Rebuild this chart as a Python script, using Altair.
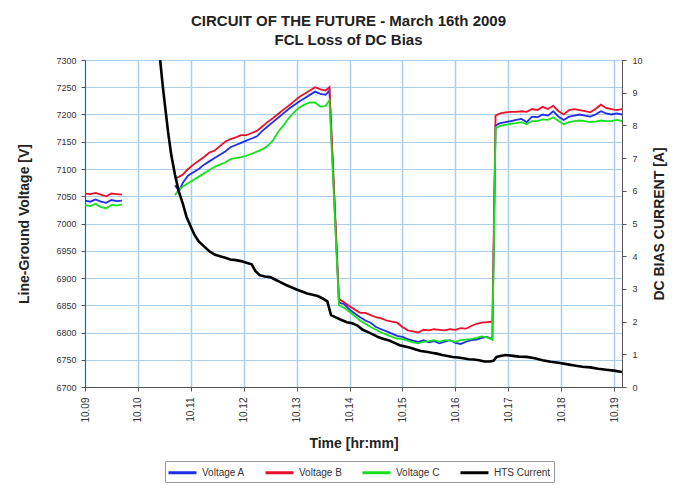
import altair as alt
import pandas as pd

# ---------- data (minutes after 10:09) ----------
seg1_t = [0.0, 0.1, 0.2, 0.3, 0.4, 0.5, 0.6, 0.7]
seg1_A = [7042, 7040, 7044, 7040, 7038, 7043, 7041, 7042]
seg1_B = [7055, 7054, 7056, 7053, 7050, 7055, 7054, 7053]
seg1_C = [7034, 7032, 7036, 7030, 7028, 7034, 7033, 7035]

seg2_t = [1.70, 1.78, 1.85, 1.95, 2.05, 2.15, 2.25, 2.35, 2.45, 2.55, 2.65, 2.75, 2.85, 2.95,
          3.05, 3.15, 3.25, 3.35, 3.45, 3.55, 3.65, 3.75, 3.85, 3.95, 4.05, 4.15, 4.25, 4.35,
          4.45, 4.55, 4.62,
          4.80, 4.90, 5.00, 5.10, 5.20, 5.30, 5.40, 5.50, 5.60, 5.70, 5.80, 5.90, 6.00, 6.10,
          6.20, 6.30, 6.40, 6.50, 6.60, 6.70, 6.80, 6.90, 7.00, 7.10, 7.20, 7.30, 7.40, 7.50,
          7.60, 7.70,
          7.76, 7.85, 7.95, 8.05, 8.15, 8.25, 8.35, 8.45, 8.55, 8.65, 8.75, 8.85, 8.95, 9.05,
          9.15, 9.25, 9.35, 9.45, 9.55, 9.65, 9.75, 9.85, 9.95, 10.05, 10.15]
seg2_A = [7070, 7060, 7075, 7088, 7094, 7100, 7108, 7114, 7120, 7126, 7132, 7140, 7144, 7148,
          7152, 7156, 7160, 7170, 7178, 7186, 7194, 7202, 7210, 7217, 7224, 7230, 7236, 7242,
          7238, 7236, 7244,
          6855, 6852, 6842, 6835, 6828, 6822, 6818, 6810, 6806, 6802, 6798, 6794, 6792, 6788,
          6785, 6783, 6786, 6782, 6784, 6780, 6783, 6786, 6781, 6779, 6783, 6786, 6787, 6790,
          6792, 6788,
          7180, 7184, 7186, 7188, 7190, 7192, 7186, 7196, 7195, 7200, 7198, 7206, 7196, 7190,
          7196, 7198, 7200, 7198, 7196, 7200, 7206, 7202, 7200, 7202, 7200]
seg2_B = [7082, 7086, 7090, 7100, 7108, 7115, 7122, 7130, 7134, 7142, 7150, 7155, 7158, 7162,
          7162, 7166, 7170, 7178, 7186, 7193, 7201, 7209, 7216, 7224, 7232, 7238, 7244, 7250,
          7246, 7244, 7250,
          6862, 6855, 6848, 6842, 6836, 6836, 6832, 6828, 6826, 6822, 6820, 6818, 6810, 6804,
          6802, 6800, 6805, 6804, 6806, 6805, 6804, 6806, 6805, 6808, 6807, 6812, 6816, 6818,
          6819, 6820,
          7198, 7202, 7204, 7205, 7205, 7206, 7205, 7210, 7208, 7214, 7210, 7216, 7206, 7200,
          7208, 7210, 7208, 7206, 7204, 7210, 7218, 7212, 7210, 7208, 7210]
seg2_C = [7052, 7062, 7068, 7074, 7080, 7086, 7092, 7098, 7104, 7108, 7112, 7118, 7120, 7122,
          7124, 7128, 7132, 7136, 7142, 7152, 7168, 7180, 7193, 7204, 7213, 7218, 7222, 7222,
          7214, 7216, 7226,
          6850, 6845, 6838, 6830, 6822, 6816, 6810, 6805, 6800, 6796, 6792, 6789, 6788, 6785,
          6782, 6780, 6783, 6784, 6786, 6783, 6786, 6785, 6783, 6786, 6787, 6788, 6790, 6793,
          6791, 6787,
          7175, 7179, 7181, 7183, 7184, 7186, 7182, 7188, 7188, 7191, 7190, 7195, 7188, 7182,
          7186, 7188, 7189, 7188, 7186, 7187, 7189, 7188, 7188, 7190, 7188]

hts_t = [1.42, 1.47, 1.52, 1.57, 1.63, 1.70, 1.77, 1.85, 1.92, 2.00, 2.07, 2.15, 2.25, 2.35,
         2.45, 2.55, 2.65, 2.75, 2.85, 2.95, 3.05, 3.15, 3.22, 3.30, 3.40, 3.50, 3.60, 3.70,
         3.80, 3.90, 4.00, 4.10, 4.20, 4.30, 4.40, 4.50, 4.58, 4.65, 4.75, 4.85, 4.95, 5.05,
         5.15, 5.25, 5.35, 5.45, 5.55, 5.65, 5.75, 5.85, 5.95, 6.05, 6.15, 6.25, 6.35, 6.45,
         6.55, 6.65, 6.75, 6.85, 6.95, 7.05, 7.15, 7.25, 7.35, 7.45, 7.55, 7.65, 7.72, 7.78,
         7.85, 7.95, 8.05, 8.20, 8.35, 8.50, 8.65, 8.80, 8.95, 9.10, 9.25, 9.40, 9.55, 9.70,
         9.85, 10.00, 10.15]
hts_I = [10.0, 9.2, 8.5, 7.8, 7.1, 6.5, 6.0, 5.6, 5.2, 4.9, 4.65, 4.45, 4.3, 4.15,
         4.05, 4.0, 3.95, 3.9, 3.88, 3.85, 3.8, 3.75, 3.55, 3.42, 3.38, 3.36, 3.28, 3.2,
         3.12, 3.05, 2.98, 2.92, 2.86, 2.82, 2.78, 2.7, 2.62, 2.2, 2.12, 2.05, 1.98, 1.95,
         1.88, 1.75, 1.68, 1.6, 1.52, 1.47, 1.42, 1.35, 1.28, 1.24, 1.2, 1.15, 1.1, 1.08,
         1.05, 1.02, 0.98, 0.95, 0.92, 0.9, 0.88, 0.85, 0.84, 0.82, 0.78, 0.78, 0.80, 0.92,
         0.95, 0.98, 0.96, 0.93, 0.92, 0.88, 0.82, 0.77, 0.74, 0.70, 0.66, 0.62, 0.60, 0.56,
         0.53, 0.50, 0.46]

series_names = ["Voltage A", "Voltage B", "Voltage C", "HTS Current"]
series_colors = ["#1f2fe6", "#e8102a", "#19e01e", "#000000"]
x_ticks = list(range(0, 11))
v_ticks = list(range(6700, 7301, 50))
i_ticks = list(range(0, 11))

# ---------- tables ----------
rows = []
for name, s1, s2 in [("Voltage A", seg1_A, seg2_A), ("Voltage B", seg1_B, seg2_B), ("Voltage C", seg1_C, seg2_C)]:
    for t, v in zip(seg1_t, s1):
        rows.append({"t": t, "v": v, "series": name, "seg": 1})
    for t, v in zip(seg2_t, s2):
        rows.append({"t": t, "v": v, "series": name, "seg": 2})
volt = pd.DataFrame(rows)
cur = pd.DataFrame({"t": hts_t, "i": hts_I, "series": "HTS Current"})

FONT = "Liberation Sans"
color_scale = alt.Scale(domain=series_names, range=series_colors)
legend = alt.Legend(
    title=None, orient="none", legendX=80, legendY=401, direction="horizontal",
    symbolType="M-2,0L2,0", symbolSize=196, symbolStrokeWidth=3, symbolOffset=6,
    labelFont=FONT, labelFontSize=10, labelColor="#333", labelOffset=11,
    columnPadding=14, strokeColor="#999", padding=3, fillColor="#ffffff",
)

x_enc = alt.X(
    "t:Q",
    scale=alt.Scale(domain=[0, 10.15], nice=False, zero=False),
    axis=alt.Axis(
        values=x_ticks, title="Time [hr:mm]", labelAngle=270, labelAlign="right",
        labelBaseline="middle", labelPadding=6, tickSize=4, labelFontSize=10,
        labelExpr="'10.' + (datum.value + 9 < 10 ? '0' : '') + (datum.value + 9)",
        grid=True, gridColor="#a9cdeb", gridWidth=1.5, titlePadding=14,
    ),
)

volt_layer = alt.Chart(volt).mark_line(strokeWidth=1.8, clip=True).encode(
    x=x_enc,
    y=alt.Y(
        "v:Q",
        scale=alt.Scale(domain=[6700, 7300], nice=False, zero=False),
        axis=alt.Axis(values=v_ticks, format="d", title="Line-Ground Voltage [V]", orient="left",
                      grid=True, gridColor="#a9cdeb", gridWidth=1.2, tickSize=4,
                      labelPadding=5, titlePadding=24),
    ),
    color=alt.Color("series:N", scale=color_scale, legend=legend),
    detail="seg:N",
)

cur_layer = alt.Chart(cur).mark_line(strokeWidth=2.6, clip=True).encode(
    x=alt.X("t:Q", scale=alt.Scale(domain=[0, 10.15], nice=False, zero=False)),
    y=alt.Y(
        "i:Q",
        scale=alt.Scale(domain=[0, 10], nice=False, zero=True),
        axis=alt.Axis(values=i_ticks, title="DC BIAS CURRENT [A]", orient="right",
                      grid=False, tickSize=4, labelPadding=6, titleAngle=270,
                      titlePadding=24),
    ),
    color=alt.Color("series:N", scale=color_scale, legend=legend),
)

chart = (
    alt.layer(volt_layer, cur_layer)
    .resolve_scale(y="independent")
    .properties(
        width=537,
        height=327,
        autosize=alt.AutoSizeParams(type="none"),
        padding={"left": 77, "top": 52, "right": 48, "bottom": 98},
        title=alt.TitleParams(
            text="CIRCUIT OF THE FUTURE - March 16th 2009",
            subtitle="FCL Loss of DC Bias",
            font=FONT, fontSize=15, fontWeight="bold", color="#222",
            subtitleFont=FONT, subtitleFontSize=15, subtitleFontWeight="bold",
            subtitleColor="#222", subtitlePadding=4, anchor="middle", offset=8, dx=-5,
        ),
    )
    .configure_view(stroke="#888", strokeWidth=1)
    .configure_axis(
        labelFont=FONT, labelFontSize=9, labelColor="#333",
        titleFont=FONT, titleFontSize=14, titleFontWeight="bold", titleColor="#222",
        domainColor="#555", tickColor="#555",
    )
)

chart.save("out.html", embed_options={"renderer": "svg", "actions": False})
